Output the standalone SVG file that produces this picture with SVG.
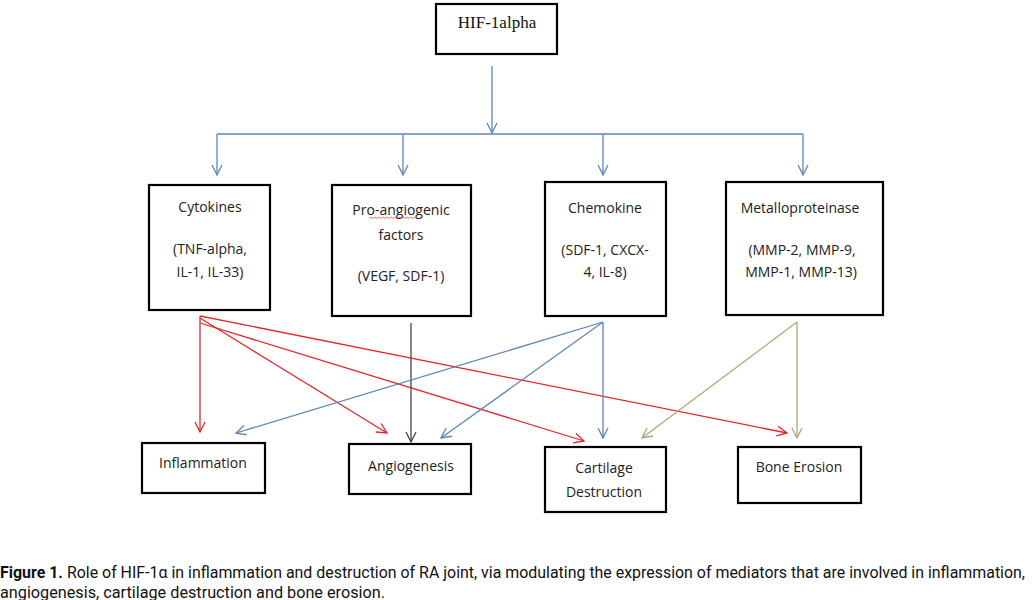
<svg xmlns="http://www.w3.org/2000/svg" width="1032" height="600" viewBox="0 0 1032 600">
<defs>
<style>
.box{fill:#fff;stroke:#000;stroke-width:2.2}
.t{font-family:"Open Sans","Liberation Sans",sans-serif;font-size:14px;fill:#222;text-anchor:middle}
.c{fill:none;stroke-width:1.3}
.b{stroke:#5b87b8}
.r{stroke:#e3262b}
.g{stroke:#444}
.o{stroke:#a8a878}
.cap{font-family:"Roboto","Liberation Sans",sans-serif;font-size:16px;fill:#111}
</style>
<marker id="mb" viewBox="0 0 12 12" refX="11" refY="6" markerWidth="12" markerHeight="12" markerUnits="userSpaceOnUse" orient="auto"><polyline points="1,1 11,6 1,11" fill="none" stroke="#5b87b8" stroke-width="1.3"/></marker>
<marker id="mr" viewBox="0 0 12 12" refX="11" refY="6" markerWidth="12" markerHeight="12" markerUnits="userSpaceOnUse" orient="auto"><polyline points="1,1 11,6 1,11" fill="none" stroke="#e3262b" stroke-width="1.3"/></marker>
<marker id="mg" viewBox="0 0 12 12" refX="11" refY="6" markerWidth="12" markerHeight="12" markerUnits="userSpaceOnUse" orient="auto"><polyline points="1,1 11,6 1,11" fill="none" stroke="#444" stroke-width="1.3"/></marker>
<marker id="mo" viewBox="0 0 12 12" refX="11" refY="6" markerWidth="12" markerHeight="12" markerUnits="userSpaceOnUse" orient="auto"><polyline points="1,1 11,6 1,11" fill="none" stroke="#a8a878" stroke-width="1.3"/></marker>
</defs>
<rect width="1032" height="600" fill="#fff"/>
<g id="connectors">
<line class="c b" x1="492" y1="66" x2="492" y2="133" marker-end="url(#mb)"/>
<polyline class="c b" points="217,134 803,134"/>
<line class="c b" x1="217" y1="134" x2="217" y2="175" marker-end="url(#mb)"/>
<line class="c b" x1="403" y1="134" x2="403" y2="175" marker-end="url(#mb)"/>
<line class="c b" x1="603" y1="134" x2="603" y2="175" marker-end="url(#mb)"/>
<line class="c b" x1="803" y1="134" x2="803" y2="175" marker-end="url(#mb)"/>
<line class="c r" x1="200" y1="316" x2="200" y2="432" marker-end="url(#mr)"/>
<line class="c r" x1="200" y1="318" x2="387" y2="433" marker-end="url(#mr)"/>
<line class="c r" x1="200" y1="323" x2="584" y2="441" marker-end="url(#mr)"/>
<line class="c r" x1="200" y1="316" x2="787" y2="433" marker-end="url(#mr)"/>
<line class="c g" x1="411" y1="323" x2="411" y2="442" marker-end="url(#mg)"/>
<line class="c b" x1="603" y1="322" x2="236" y2="433" marker-end="url(#mb)"/>
<line class="c b" x1="603" y1="322" x2="441" y2="438" marker-end="url(#mb)"/>
<line class="c b" x1="603" y1="322" x2="603" y2="438" marker-end="url(#mb)"/>
<line class="c o" x1="797" y1="322" x2="642" y2="438" marker-end="url(#mo)"/>
<line class="c o" x1="797" y1="322" x2="797" y2="438" marker-end="url(#mo)"/>
</g>
<g id="hif">
<rect class="box" x="436" y="4" width="121" height="50"/>
<text x="497" y="28" font-family="Liberation Serif,serif" font-size="17" text-anchor="middle" fill="#111">HIF-1alpha</text>
</g>
<g id="cytokines">
<rect class="box" x="149" y="185" width="121" height="125"/>
<text class="t" x="210" y="212">Cytokines</text>
<text class="t" x="210" y="254">(TNF-alpha,</text>
<text class="t" x="210" y="277">IL-1, IL-33)</text>
</g>
<g id="proangio">
<rect class="box" x="332" y="185" width="139" height="131"/>
<text class="t" x="401" y="215">Pro-angiogenic</text>
<path d="M369,218.5 l2,-1.5 l2,1.5 l2,-1.5 l2,1.5 l2,-1.5 l2,1.5 l2,-1.5 l2,1.5 l2,-1.5 l2,1.5 l2,-1.5 l2,1.5 l2,-1.5 l2,1.5 l2,-1.5 l2,1.5 l2,-1.5 l2,1.5 l2,-1.5 l2,1.5 l2,-1.5 l2,1.5 l2,-1.5 l2,1.5" fill="none" stroke="#e05050" stroke-width="0.8"/>
<text class="t" x="401" y="240">factors</text>
<text class="t" x="401" y="281">(VEGF, SDF-1)</text>
</g>
<g id="chemokine">
<rect class="box" x="545" y="182" width="121" height="134"/>
<text class="t" x="605" y="213">Chemokine</text>
<text class="t" x="605" y="255">(SDF-1, CXCX-</text>
<text class="t" x="605" y="277">4, IL-8)</text>
</g>
<g id="metallo">
<rect class="box" x="726" y="182" width="157" height="133"/>
<text class="t" x="800" y="213">Metalloproteinase</text>
<text class="t" x="802" y="255">(MMP-2, MMP-9,</text>
<text class="t" x="801" y="277">MMP-1, MMP-13)</text>
</g>
<g id="inflammation">
<rect class="box" x="142" y="443" width="123" height="50"/>
<text class="t" x="203" y="468">Inflammation</text>
</g>
<g id="angiogenesis">
<rect class="box" x="349" y="444" width="122" height="50"/>
<text class="t" x="411" y="471">Angiogenesis</text>
</g>
<g id="cartilage">
<rect class="box" x="545" y="447" width="121" height="65"/>
<text class="t" x="604" y="473">Cartilage</text>
<text class="t" x="604" y="497">Destruction</text>
</g>
<g id="bone">
<rect class="box" x="738" y="447" width="123" height="56"/>
<text class="t" x="799" y="472">Bone Erosion</text>
</g>
<g id="caption">
<text class="cap" x="0" y="578" textLength="1025" lengthAdjust="spacingAndGlyphs"><tspan font-weight="bold">Figure 1.</tspan> Role of HIF-1α in inflammation and destruction of RA joint, via modulating the expression of mediators that are involved in inflammation,</text>
<text class="cap" x="0" y="598" textLength="385" lengthAdjust="spacingAndGlyphs">angiogenesis, cartilage destruction and bone erosion.</text>
</g>
</svg>
